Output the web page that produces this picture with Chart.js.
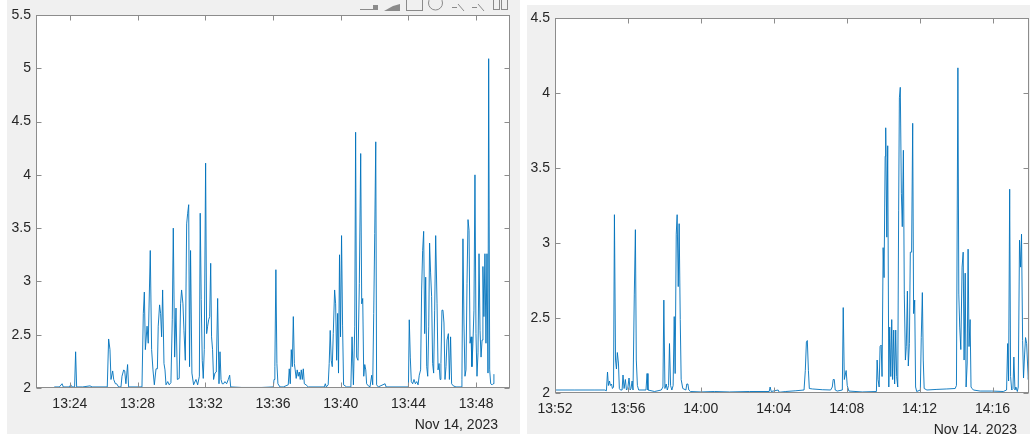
<!DOCTYPE html>
<html>
<head>
<meta charset="utf-8">
<script src="https://cdn.jsdelivr.net/npm/chart.js@4.4.0/dist/chart.umd.min.js"></script>
<style>
  body { margin: 0; background: #fff; width: 1030px; height: 436px; overflow: hidden; position: relative; }
  .panel { position: absolute; background: #f0f0f0; }
  .panel canvas { display: block; }
  #leftPanel { left: 7px; top: 0; width: 513px; height: 434px; }
  #rightPanel { left: 527px; top: 5px; width: 503px; height: 429px; }
</style>
</head>
<body>
<div class="panel" id="leftPanel"><canvas id="leftChart" width="513" height="434"></canvas></div>
<div class="panel" id="rightPanel"><canvas id="rightChart" width="503" height="429"></canvas></div>
<script>
// x values are minutes past 13:00
const leftTimes = [
  23.08, 23.38, 23.54, 23.61, 23.97, 24.05, 24.13, 24.28, 24.34, 24.40,
  24.76, 25.19, 25.31, 26.21, 26.29, 26.37, 26.43, 26.53, 26.59, 26.69,
  26.76, 26.88, 27.02, 27.08, 27.18, 27.24, 27.31, 27.41, 27.47, 28.26,
  28.34, 28.40, 28.46, 28.56, 28.63, 28.75, 28.83, 28.91, 28.99, 29.09,
  29.17, 29.22, 29.30, 29.36, 29.42, 29.48, 29.56, 29.62, 29.68, 29.78,
  29.87, 29.97, 30.05, 30.11, 30.19, 30.27, 30.35, 30.46, 30.54, 30.60,
  30.68, 30.74, 30.82, 30.90, 30.96, 31.02, 31.07, 31.13, 31.21, 31.31,
  31.45, 31.55, 31.65, 31.70, 31.76, 31.82, 31.88, 31.94, 32.02, 32.08,
  32.14, 32.20, 32.26, 32.32, 32.37, 32.43, 32.49, 32.57, 32.65, 32.73,
  32.81, 32.87, 32.93, 33.00, 33.08, 33.16, 33.26, 33.36, 33.44, 33.50,
  34.15, 35.33, 36.02, 36.06, 36.11, 36.17, 36.23, 36.29, 36.41, 36.61,
  36.90, 36.96, 37.02, 37.08, 37.14, 37.20, 37.26, 37.31, 37.37, 37.43,
  37.49, 37.55, 37.61, 37.67, 37.73, 37.79, 37.85, 37.95, 38.08, 39.03,
  39.09, 39.15, 39.26, 39.32, 39.38, 39.44, 39.50, 39.56, 39.64, 39.70,
  39.76, 39.82, 39.87, 39.93, 39.99, 40.05, 40.11, 40.17, 40.35, 40.60,
  40.67, 40.75, 40.83, 40.88, 40.94, 41.02, 41.10, 41.18, 41.24, 41.30,
  41.36, 41.42, 41.48, 41.53, 41.63, 41.73, 41.83, 41.89, 41.95, 42.01,
  42.07, 42.12, 42.22, 42.62, 42.68, 44.00, 44.05, 44.11, 44.17, 44.25,
  44.33, 44.41, 44.49, 44.57, 44.64, 44.72, 44.78, 44.84, 44.90, 44.96,
  45.02, 45.08, 45.14, 45.20, 45.25, 45.31, 45.37, 45.43, 45.49, 45.55,
  45.61, 45.69, 45.75, 45.81, 45.87, 45.92, 45.98, 46.04, 46.10, 46.16,
  46.22, 46.28, 46.36, 46.42, 46.49, 46.55, 46.65, 46.81, 47.11, 47.16,
  47.22, 47.28, 47.34, 47.40, 47.46, 47.52, 47.58, 47.64, 47.70, 47.75,
  47.81, 47.87, 47.93, 47.99, 48.05, 48.11, 48.17, 48.23, 48.29, 48.35,
  48.40, 48.46, 48.52, 48.58, 48.64, 48.70, 48.74, 48.80, 48.86, 48.94,
  49.00, 49.05
];
const leftValues = [
  2.01, 2.01, 2.04, 2.01, 2.01, 2.03, 2.01, 2.01, 2.34, 2.01,
  2.01, 2.02, 2.01, 2.01, 2.46, 2.36, 2.08, 2.16, 2.08, 2.04,
  2.04, 2.01, 2.01, 2.11, 2.17, 2.16, 2.04, 2.22, 2.01, 2.01,
  2.70, 2.90, 2.36, 2.58, 2.42, 3.29, 2.36, 2.17, 2.03, 2.18,
  2.18, 2.58, 2.78, 2.70, 2.48, 2.92, 2.23, 2.17, 2.03, 2.06,
  2.03, 2.05, 2.64, 3.50, 2.29, 2.75, 2.08, 2.09, 2.79, 2.92,
  2.79, 2.54, 2.26, 3.54, 3.64, 3.72, 2.20, 3.29, 2.14, 2.03,
  2.08, 2.03, 2.11, 3.64, 2.83, 2.26, 2.09, 2.36, 4.11, 2.51,
  2.58, 2.64, 2.67, 3.17, 2.48, 2.36, 2.08, 2.14, 2.15, 2.84,
  2.04, 2.34, 2.08, 2.04, 2.04, 2.06, 2.04, 2.08, 2.12, 2.01,
  2.005, 2.005, 2.01, 2.08, 2.20, 3.11, 2.23, 2.04, 2.01, 2.01,
  2.03, 2.18, 2.04, 2.36, 2.20, 2.67, 2.23, 2.17, 2.09, 2.17,
  2.11, 2.15, 2.08, 2.17, 2.08, 2.18, 2.04, 2.03, 2.01, 2.01,
  2.04, 2.01, 2.03, 2.23, 2.54, 2.26, 2.20, 2.51, 2.92, 2.79,
  2.26, 2.70, 2.14, 3.25, 2.48, 3.43, 2.59, 2.03, 2.01, 2.01,
  2.48, 2.03, 2.58, 4.40, 2.29, 2.26, 2.98, 4.20, 2.79, 2.84,
  2.11, 2.22, 2.17, 2.04, 2.02, 2.01, 2.12, 2.03, 2.70, 3.45,
  4.31, 2.03, 2.01, 2.04, 2.01, 2.01, 2.64, 2.29, 2.06, 2.04,
  2.08, 2.04, 2.06, 2.03, 2.12, 2.17, 2.92, 3.29, 3.47, 2.51,
  3.04, 2.20, 2.11, 2.58, 3.36, 3.08, 2.86, 2.23, 2.14, 2.73,
  3.43, 2.79, 2.17, 2.23, 2.08, 2.23, 2.73, 2.73, 2.61, 2.08,
  2.20, 2.45, 2.51, 2.08, 2.48, 2.04, 2.02, 2.01, 2.01, 2.08,
  3.40, 2.61, 2.11, 2.17, 2.98, 3.58, 3.48, 2.42, 2.48, 2.20,
  2.42, 2.73, 4.00, 2.51, 2.11, 2.33, 3.26, 2.54, 2.29, 2.45,
  3.14, 2.67, 3.26, 2.42, 3.26, 2.14, 5.09, 2.17, 2.04, 2.03,
  2.04, 2.13
];

const rightTimes = [
  52.00, 53.09, 54.19, 54.73, 54.82, 54.88, 54.93, 54.99, 55.04, 55.10,
  55.15, 55.21, 55.26, 55.32, 55.37, 55.42, 55.48, 55.53, 55.59, 55.68,
  55.73, 55.79, 55.86, 55.92, 55.99, 56.06, 56.12, 56.17, 56.23, 56.28,
  56.35, 56.41, 56.46, 56.52, 56.59, 56.99, 57.05, 57.10, 57.46, 57.83,
  57.92, 57.97, 58.03, 58.10, 58.16, 58.23, 58.28, 58.34, 58.41, 58.48,
  58.54, 58.59, 58.65, 58.70, 58.76, 58.81, 58.87, 58.92, 59.01, 59.18,
  59.23, 59.29, 59.34, 59.43, 60.01, 60.74, 61.56, 62.66, 63.75, 63.80,
  63.86, 64.24, 64.30, 64.66, 65.21, 65.66, 65.73, 65.79, 65.84, 65.90,
  65.95, 66.12, 66.66, 67.12, 67.21, 67.26, 67.32, 67.37, 67.48, 67.76,
  67.81, 67.87, 67.92, 67.97, 68.03, 68.12, 68.85, 69.63, 69.67, 69.72,
  69.78, 69.83, 69.89, 69.94, 70.00, 70.05, 70.11, 70.14, 70.20, 70.25,
  70.31, 70.36, 70.42, 70.47, 70.52, 70.58, 70.63, 70.69, 70.74, 70.80,
  70.85, 70.89, 70.94, 71.00, 71.05, 71.11, 71.16, 71.22, 71.27, 71.33,
  71.38, 71.44, 71.49, 71.56, 71.62, 71.67, 71.73, 71.78, 71.84, 72.04,
  72.09, 72.15, 72.20, 72.25, 72.40, 72.95, 73.49, 73.95, 74.02, 74.10,
  74.15, 74.20, 74.26, 74.33, 74.39, 74.44, 74.50, 74.55, 74.61, 74.66,
  74.71, 74.77, 74.82, 74.88, 74.95, 75.32, 75.95, 76.59, 76.77, 76.83,
  76.88, 76.94, 76.99, 77.05, 77.12, 77.17, 77.23, 77.28, 77.36, 77.41,
  77.48, 77.54, 77.59, 77.65, 77.70, 77.76, 77.81, 77.87, 77.96, 78.10
];
const rightValues = [
  2.02, 2.02, 2.02, 2.02, 2.015, 2.14, 2.05, 2.08, 2.05, 2.06,
  2.03, 2.04, 3.19, 2.22, 2.16, 2.27, 2.20, 2.03, 2.02, 2.02,
  2.12, 2.03, 2.09, 2.02, 2.03, 2.10, 2.02, 2.03, 2.08, 2.02,
  2.66, 3.09, 2.22, 2.05, 2.02, 2.02, 2.13, 2.02, 2.01, 2.02,
  2.04, 2.62, 2.03, 2.06, 2.02, 2.05, 2.33, 2.05, 2.02, 2.05,
  2.51, 2.13, 3.06, 3.19, 2.71, 3.13, 2.49, 2.09, 2.03, 2.02,
  2.06, 2.06, 2.02, 2.01, 2.007, 2.01, 2.007, 2.01, 2.01, 2.04,
  2.01, 2.02, 2.005, 2.01, 2.015, 2.02, 2.15, 2.34, 2.35, 2.15,
  2.03, 2.027, 2.022, 2.02, 2.04, 2.09, 2.09, 2.02, 2.013, 2.02,
  2.57, 2.09, 2.12, 2.15, 2.05, 2.013, 2.007, 2.01, 2.22, 2.09,
  2.04, 2.31, 2.32, 2.11, 2.97, 2.77, 3.58, 3.77, 3.04, 3.65,
  2.04, 2.44, 2.11, 2.49, 2.09, 2.42, 2.06, 2.42, 2.11, 2.04,
  3.22, 3.97, 4.04, 3.33, 3.11, 3.62, 2.66, 2.22, 2.31, 2.68,
  2.18, 2.33, 2.94, 2.94, 3.80, 2.53, 2.62, 2.04, 2.01, 2.02,
  2.37, 2.67, 2.22, 2.03, 2.02, 2.024, 2.027, 2.03, 2.05, 4.17,
  2.66, 2.44, 2.29, 2.84, 2.94, 2.22, 2.80, 2.04, 2.20, 2.96,
  2.31, 2.49, 2.04, 2.03, 2.02, 2.013, 2.013, 2.01, 2.02, 2.33,
  2.08, 3.36, 2.11, 2.02, 2.03, 2.24, 2.02, 2.04, 2.01, 2.04,
  3.02, 2.84, 3.06, 2.35, 2.10, 2.26, 2.37, 2.33, 2.09, 2.30
];

const leftXTicks = [24, 28, 32, 36, 40, 44, 48];
const leftXLabels = ["13:24", "13:28", "13:32", "13:36", "13:40", "13:44", "13:48"];
const rightXTicks = [52, 56, 60, 64, 68, 72, 76];
const rightXLabels = ["13:52", "13:56", "14:00", "14:04", "14:08", "14:12", "14:16"];
const leftYTicks = [2, 2.5, 3, 3.5, 4, 4.5, 5, 5.5];
const leftYLabels = ["2", "2.5", "3", "3.5", "4", "4.5", "5", "5.5"];
const rightYTicks = [2, 2.5, 3, 3.5, 4, 4.5];
const rightYLabels = ["2", "2.5", "3", "3.5", "4", "4.5"];
const dateLabel = "Nov 14, 2023";

const axisColor = "#8c8c8c";
const textColor = "#262626";
const lineColor = "rgba(0, 114, 189, 0.9)";
const fontFamily = "'Liberation Sans', Arial, sans-serif";

// matlab style: white axes, box, inward ticks on all sides, date under the axis
const matlabAxes = {
  id: "matlabAxes",
  beforeDraw(chart) {
    const { ctx, chartArea: a } = chart;
    ctx.save();
    ctx.fillStyle = "#fff";
    ctx.fillRect(a.left, a.top, a.right - a.left, a.bottom - a.top);
    ctx.restore();
  },
  afterDraw(chart, args, opts) {
    const { ctx, chartArea: a } = chart;
    const xs = chart.scales.x, ys = chart.scales.y;
    const L = Math.round(a.left) + 0.5, R = Math.round(a.right) - 0.5;
    const T = Math.round(a.top) + 0.5, B = Math.round(a.bottom) - 0.5;
    ctx.save();
    ctx.strokeStyle = axisColor;
    ctx.lineWidth = 1;
    ctx.strokeRect(L, T, R - L, B - T);
    ctx.beginPath();
    xs.ticks.forEach((t) => {
      const px = Math.round(xs.getPixelForValue(t.value)) + 0.5;
      ctx.moveTo(px, B); ctx.lineTo(px, B - 5);
      ctx.moveTo(px, T); ctx.lineTo(px, T + 5);
    });
    ys.ticks.forEach((t) => {
      const py = Math.round(ys.getPixelForValue(t.value)) + 0.5;
      ctx.moveTo(L, py); ctx.lineTo(L + 5, py);
      ctx.moveTo(R, py); ctx.lineTo(R - 5, py);
    });
    ctx.stroke();

    ctx.fillStyle = textColor;
    ctx.font = "14px " + fontFamily;
    ctx.textAlign = "right";
    ctx.textBaseline = "middle";
    ctx.fillText(dateLabel, a.right - 12, a.bottom + 37);

    if (opts.toolbar) {
      // axes toolbar, cut off at the top of the figure
      ctx.strokeStyle = "#8a8a8a";
      ctx.fillStyle = "#8a8a8a";
      ctx.beginPath();
      ctx.moveTo(353, 9.5); ctx.lineTo(366, 9.5);
      ctx.stroke();
      ctx.fillRect(366, 5, 5, 5);
      ctx.beginPath();
      ctx.moveTo(377, 11); ctx.lineTo(393, 11); ctx.lineTo(393, 4); ctx.lineTo(386, 6);
      ctx.closePath();
      ctx.fill();
      ctx.strokeRect(399.5, -5.5, 16, 16);
      ctx.beginPath();
      ctx.arc(428.5, 3, 7, 0, Math.PI * 2);
      ctx.stroke();
      [445, 465].forEach((x0) => {
        ctx.beginPath();
        ctx.moveTo(x0, 7.5); ctx.lineTo(x0 + 5, 7.5);
        ctx.moveTo(x0 + 6, 4); ctx.lineTo(x0 + 12, 11);
        ctx.stroke();
      });
      ctx.strokeRect(486.5, -3.5, 6, 13);
      ctx.strokeRect(494.5, -3.5, 6, 13);
    }
    ctx.restore();
  }
};

function makeChart(id, times, values, xMin, xMax, xTicks, xLabels, yMax, yTicks, yLabels, area, toolbar) {
  const canvas = document.getElementById(id);
  const W = canvas.width, H = canvas.height;
  const tickFont = { family: fontFamily, size: 14 };
  return new Chart(canvas, {
    type: "line",
    data: {
      datasets: [{
        data: times.map((t, i) => ({ x: t, y: values[i] })),
        borderColor: lineColor,
        borderWidth: 1,
        pointRadius: 0,
        tension: 0
      }]
    },
    options: {
      responsive: false,
      animation: false,
      events: [],
      layout: { padding: { left: 0, right: W - area.right, top: area.top, bottom: 0 } },
      plugins: {
        legend: { display: false },
        tooltip: { enabled: false },
        matlabAxes: { toolbar: toolbar }
      },
      scales: {
        x: {
          type: "linear",
          min: xMin,
          max: xMax,
          grid: { display: false, drawTicks: false },
          border: { display: false },
          afterBuildTicks: (s) => { s.ticks = xTicks.map((v) => ({ value: v })); },
          afterFit: (s) => { s.height = H - area.bottom; },
          ticks: {
            autoSkip: false, maxRotation: 0, minRotation: 0, padding: 8,
            color: textColor, font: tickFont,
            callback: (v, i) => xLabels[i]
          }
        },
        y: {
          min: 2,
          max: yMax,
          grid: { display: false, drawTicks: false },
          border: { display: false },
          afterBuildTicks: (s) => { s.ticks = yTicks.map((v) => ({ value: v })); },
          afterFit: (s) => { s.width = area.left; },
          ticks: {
            padding: 5,
            color: textColor, font: tickFont,
            callback: (v, i) => yLabels[i]
          }
        }
      }
    },
    plugins: [matlabAxes]
  });
}

makeChart("leftChart", leftTimes, leftValues, 22, 50, leftXTicks, leftXLabels, 5.5, leftYTicks, leftYLabels,
  { left: 29, right: 503, top: 15, bottom: 388 }, true);
makeChart("rightChart", rightTimes, rightValues, 52, 78, rightXTicks, rightXLabels, 4.5, rightYTicks, rightYLabels,
  { left: 28, right: 502, top: 12, bottom: 388 }, false);
</script>
</body>
</html>
